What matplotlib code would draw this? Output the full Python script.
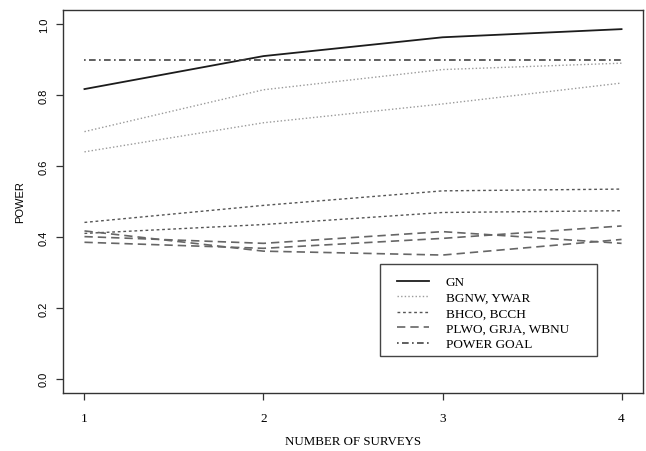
import matplotlib
matplotlib.use("Agg")
import matplotlib.pyplot as plt
from matplotlib.patches import Rectangle

surveys = [1, 2, 3, 4]
power_goal = 0.90

gn = [0.817, 0.910, 0.963, 0.986]
bgnw = [0.697, 0.815, 0.872, 0.890]
ywar = [0.640, 0.722, 0.775, 0.834]
bhco = [0.441, 0.489, 0.530, 0.535]
bcch = [0.410, 0.435, 0.469, 0.474]
plwo = [0.401, 0.382, 0.415, 0.382]
grja = [0.385, 0.368, 0.396, 0.431]
wbnu = [0.417, 0.360, 0.349, 0.393]

legend_labels = ["GN", "BGNW, YWAR", "BHCO, BCCH", "PLWO, GRJA, WBNU", "POWER GOAL"]

serif = "Liberation Serif"
sans = "Liberation Sans"

fig = plt.figure(figsize=(6.46, 4.52), dpi=100)
ax = fig.add_axes([0.0975, 0.1283, 0.8979, 0.8474])

solid = dict(color="#1c1c1c", lw=1.3, ls="-")
fine_dot = dict(color="#9a9a9a", lw=1.0, ls=(0, (1, 1.6)))
short_dash = dict(color="#555555", lw=1.0, ls=(0, (2, 2)))
dashed = dict(color="#666666", lw=1.2, ls=(0, (5, 3)))
dotdash = dict(color="#444444", lw=1.2, ls=(0, (1, 2, 4, 2)))

h_gn, = ax.plot(surveys, gn, **solid)
h_bg, = ax.plot(surveys, bgnw, **fine_dot)
ax.plot(surveys, ywar, **fine_dot)
h_bh, = ax.plot(surveys, bhco, **short_dash)
ax.plot(surveys, bcch, **short_dash)
h_pl, = ax.plot(surveys, plwo, **dashed)
ax.plot(surveys, grja, **dashed)
ax.plot(surveys, wbnu, **dashed)
h_goal, = ax.plot(surveys, [power_goal] * len(surveys), **dotdash)

ax.set_xlim(0.88, 4.12)
ax.set_ylim(-0.04, 1.04)
ax.set_xticks(surveys)
ax.set_yticks([0.0, 0.2, 0.4, 0.6, 0.8, 1.0])
ax.set_yticklabels(["0.0", "0.2", "0.4", "0.6", "0.8", "1.0"],
                   rotation=90, va="center", fontfamily=sans, fontsize=8)
ax.set_xticklabels([str(s) for s in surveys], fontfamily=serif, fontsize=9.5)
ax.tick_params(axis="both", direction="out", length=5, width=0.9, color="#333333")
ax.tick_params(axis="x", pad=9)
ax.tick_params(axis="y", pad=5)
for sp in ax.spines.values():
    sp.set_color("#333333")
    sp.set_linewidth(1.0)

ax.set_xlabel("NUMBER OF SURVEYS", fontfamily=serif, fontsize=9.3)
ax.xaxis.set_label_coords(0.5, -0.11)
ax.set_ylabel("POWER", fontfamily=sans, fontsize=8)
ax.yaxis.set_label_coords(-0.066, 0.5)

# legend entries without a frame, box drawn separately
leg = ax.legend([h_gn, h_bg, h_bh, h_pl, h_goal], legend_labels,
                loc="upper left", bbox_to_anchor=(0.5759, 0.3055),
                borderaxespad=0, borderpad=0, frameon=False,
                handlelength=2.4, handletextpad=1.3, labelspacing=0.25,
                prop={"family": serif, "size": 9.5})
ax.add_patch(Rectangle((0.5466, 0.0966), 0.3741, 0.2402, transform=ax.transAxes,
                       fill=False, edgecolor="#444444", lw=1.0, zorder=4))

fig.savefig("out.png", dpi=100)
